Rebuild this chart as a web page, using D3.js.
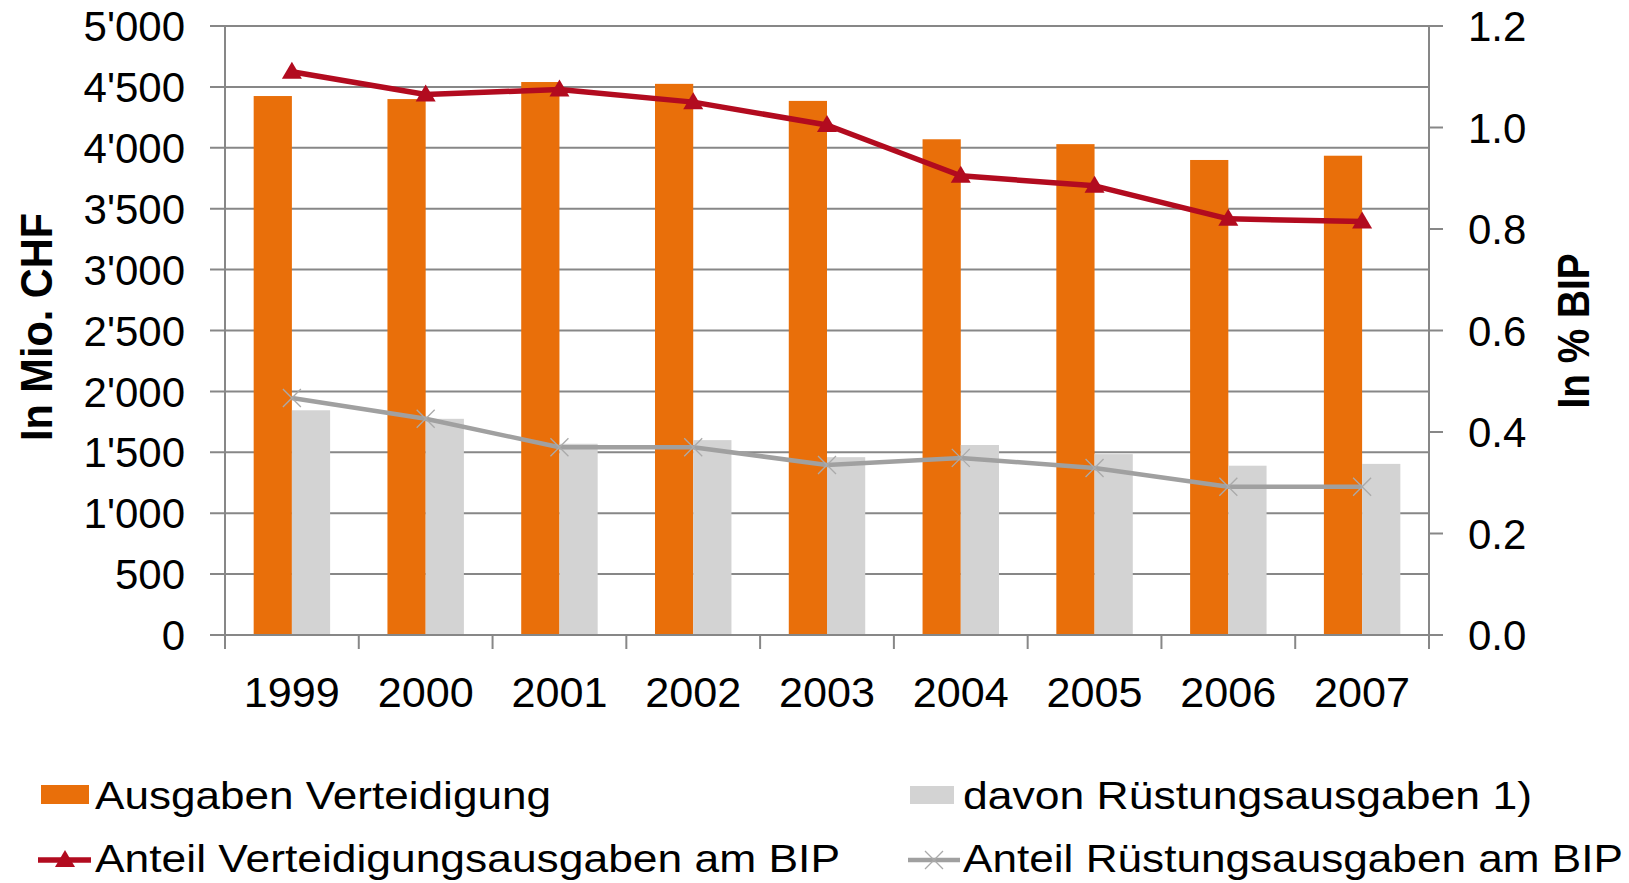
<html>
<head>
<meta charset="utf-8">
<script src="https://d3js.org/d3.v7.min.js"></script>
<style>
  body { margin: 0; background: white; }
  text { font-family: "Liberation Sans", Arial, sans-serif; fill: black; }
</style>
</head>
<body>
<script>
// *** data
var years = ["1999", "2000", "2001", "2002", "2003", "2004", "2005", "2006", "2007"];
var ausgaben = [4425, 4400, 4540, 4525, 4385, 4070, 4030, 3900, 3935];
var ruestung = [1845, 1775, 1570, 1600, 1460, 1560, 1485, 1390, 1405];
var anteilVert = [1.11, 1.065, 1.075, 1.05, 1.005, 0.905, 0.885, 0.82, 0.815];
var anteilRuest = [0.467, 0.426, 0.37, 0.37, 0.335, 0.349, 0.329, 0.292, 0.292];
var leftTicks = [0, 500, 1000, 1500, 2000, 2500, 3000, 3500, 4000, 4500, 5000];
var rightTicks = [0, 0.2, 0.4, 0.6, 0.8, 1.0, 1.2];
var legendNames = ["Ausgaben Verteidigung", "davon Rüstungsausgaben 1)",
                   "Anteil Verteidigungsausgaben am BIP", "Anteil Rüstungsausgaben am BIP"];

var colorOrange = "#e96f0a", colorGray = "#d3d3d3", colorRed = "#b20b1f", colorLine = "#a0a0a0";
var gridColor = "#878787";

var W = 1629, H = 883;
var plotL = 225, plotR = 1429, plotT = 26, plotB = 635;

var svg = d3.select("body").append("svg")
    .attr("width", W).attr("height", H);

// *** scales
var x = d3.scaleBand().domain(years).range([plotL, plotR]).padding(0);
var xInner = d3.scaleBand().domain(["a", "b"]).range([0, x.bandwidth()])
    .paddingInner(0).paddingOuter(0.75);
var yLeft = d3.scaleLinear().domain([0, 5000]).range([plotB, plotT]);
var yRight = d3.scaleLinear().domain([0, 1.2]).range([plotB, plotT]);

// *** grid + left ticks
svg.append("g").selectAll("line").data(leftTicks).enter().append("line")
    .attr("x1", plotL - 15).attr("x2", plotR)
    .attr("y1", function(d){ return yLeft(d); })
    .attr("y2", function(d){ return yLeft(d); })
    .attr("stroke", gridColor).attr("stroke-width", 2);

svg.append("g").selectAll("text").data(leftTicks).enter().append("text")
    .attr("x", 185)
    .attr("y", function(d){ return yLeft(d); })
    .attr("dy", "0.36em")
    .attr("text-anchor", "end")
    .attr("font-size", 42)
    .text(function(d){ return d3.format(",")(d).replace(/,/g, "'"); });

// right ticks
svg.append("g").selectAll("line").data(rightTicks).enter().append("line")
    .attr("x1", plotR).attr("x2", plotR + 14)
    .attr("y1", function(d){ return yRight(d); })
    .attr("y2", function(d){ return yRight(d); })
    .attr("stroke", gridColor).attr("stroke-width", 2);

svg.append("g").selectAll("text").data(rightTicks).enter().append("text")
    .attr("x", 1468)
    .attr("y", function(d){ return yRight(d); })
    .attr("dy", "0.36em")
    .attr("font-size", 42)
    .text(function(d){ return d3.format(".1f")(d); });

// *** bars
var groups = svg.append("g").selectAll("g").data(years).enter().append("g")
    .attr("transform", function(d){ return "translate(" + x(d) + ",0)"; });

groups.append("rect")
    .attr("x", xInner("a")).attr("width", xInner.bandwidth())
    .attr("y", function(d, i){ return yLeft(ausgaben[i]); })
    .attr("height", function(d, i){ return plotB - yLeft(ausgaben[i]); })
    .attr("fill", colorOrange);

groups.append("rect")
    .attr("x", xInner("b")).attr("width", xInner.bandwidth())
    .attr("y", function(d, i){ return yLeft(ruestung[i]); })
    .attr("height", function(d, i){ return plotB - yLeft(ruestung[i]); })
    .attr("fill", colorGray);

// *** axes lines
var ticksX = years.map(function(d){ return x(d); }).concat([plotR]);
svg.append("g").selectAll("line").data(ticksX).enter().append("line")
    .attr("x1", function(d){ return d; }).attr("x2", function(d){ return d; })
    .attr("y1", plotB).attr("y2", plotB + 14)
    .attr("stroke", gridColor).attr("stroke-width", 2);
svg.append("line").attr("x1", plotL).attr("x2", plotL).attr("y1", plotT).attr("y2", plotB)
    .attr("stroke", gridColor).attr("stroke-width", 2);
svg.append("line").attr("x1", plotR).attr("x2", plotR).attr("y1", plotT).attr("y2", plotB)
    .attr("stroke", gridColor).attr("stroke-width", 2);
svg.append("line").attr("x1", plotL).attr("x2", plotR).attr("y1", plotB).attr("y2", plotB)
    .attr("stroke", gridColor).attr("stroke-width", 2);

svg.append("g").selectAll("text").data(years).enter().append("text")
    .attr("x", function(d){ return x(d) + x.bandwidth() / 2; })
    .attr("y", 707)
    .attr("text-anchor", "middle")
    .attr("font-size", 42)
    .attr("textLength", 96).attr("lengthAdjust", "spacingAndGlyphs")
    .text(function(d){ return d; });

// *** lines
var cx = function(d, i){ return x(years[i]) + x.bandwidth() / 2; };
var lineRuest = d3.line().x(cx).y(function(d){ return yRight(d); });
var lineVert = d3.line().x(cx).y(function(d){ return yRight(d); });

svg.append("path").attr("d", lineRuest(anteilRuest))
    .attr("fill", "none").attr("stroke", colorLine).attr("stroke-width", 4.5)
    .attr("stroke-linejoin", "round");
svg.append("g").selectAll("path").data(anteilRuest).enter().append("path")
    .attr("transform", function(d, i){ return "translate(" + cx(d, i) + "," + yRight(d) + ")"; })
    .attr("d", "M-9,-9L9,9M-9,9L9,-9")
    .attr("stroke", "#aaaaaa").attr("stroke-width", 1.3).attr("fill", "none");

svg.append("path").attr("d", lineVert(anteilVert))
    .attr("fill", "none").attr("stroke", colorRed).attr("stroke-width", 5.5)
    .attr("stroke-linejoin", "round");
svg.append("g").selectAll("path").data(anteilVert).enter().append("path")
    .attr("transform", function(d, i){ return "translate(" + cx(d, i) + "," + yRight(d) + ")"; })
    .attr("d", "M0,-10L10,7L-10,7Z")
    .attr("fill", colorRed);

// *** axis titles
svg.append("text")
    .attr("transform", "translate(52,327) rotate(-90)")
    .attr("text-anchor", "middle")
    .attr("font-size", 44).attr("font-weight", "bold")
    .attr("textLength", 228).attr("lengthAdjust", "spacingAndGlyphs")
    .text("In Mio. CHF");

svg.append("text")
    .attr("transform", "translate(1589,331) rotate(-90)")
    .attr("text-anchor", "middle")
    .attr("font-size", 44).attr("font-weight", "bold")
    .attr("textLength", 155).attr("lengthAdjust", "spacingAndGlyphs")
    .text("In % BIP");

// *** legend
var leg = svg.append("g");
leg.append("rect").attr("x", 41).attr("y", 785).attr("width", 48).attr("height", 19).attr("fill", colorOrange);
leg.append("rect").attr("x", 910).attr("y", 786).attr("width", 44).attr("height", 18).attr("fill", colorGray);
leg.append("line").attr("x1", 38).attr("x2", 91).attr("y1", 860).attr("y2", 860)
    .attr("stroke", colorRed).attr("stroke-width", 5.5);
leg.append("path").attr("transform", "translate(65,860)").attr("d", "M0,-10L10,7L-10,7Z").attr("fill", colorRed);
leg.append("line").attr("x1", 908).attr("x2", 960).attr("y1", 860).attr("y2", 860)
    .attr("stroke", colorLine).attr("stroke-width", 4.5);
leg.append("path").attr("transform", "translate(934,860)").attr("d", "M-9,-9L9,9M-9,9L9,-9")
    .attr("stroke", "#aaaaaa").attr("stroke-width", 1.3);

var legPos = [[95, 809, 456], [963, 809, 569], [95, 872, 745], [963, 872, 660]];
leg.selectAll("text").data(legendNames).enter().append("text")
    .attr("x", function(d, i){ return legPos[i][0]; })
    .attr("y", function(d, i){ return legPos[i][1]; })
    .attr("font-size", 38)
    .attr("textLength", function(d, i){ return legPos[i][2]; })
    .attr("lengthAdjust", "spacingAndGlyphs")
    .text(function(d){ return d; });
</script>
</body>
</html>
